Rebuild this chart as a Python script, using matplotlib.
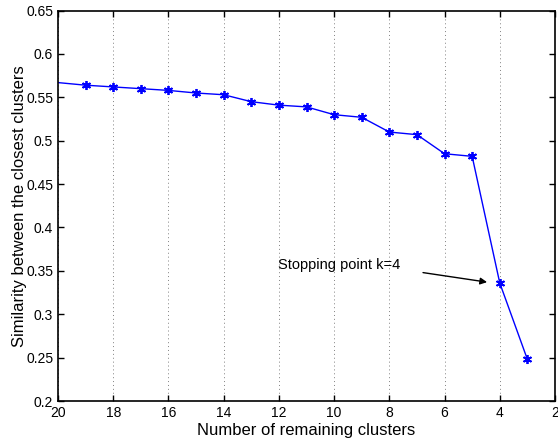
import matplotlib.pyplot as plt

plt.rcParams['font.family'] = ['Liberation Sans', 'DejaVu Sans']

# remaining clusters vs similarity of the two closest clusters
clusters = [20, 19, 18, 17, 16, 15, 14, 13, 12, 11, 10, 9, 8, 7, 6, 5, 4, 3]
similarity = [0.567, 0.564, 0.562, 0.560, 0.558, 0.555, 0.553, 0.545, 0.541,
              0.539, 0.530, 0.527, 0.510, 0.507, 0.485, 0.482, 0.336, 0.248]
x_ticks = [20, 18, 16, 14, 12, 10, 8, 6, 4, 2]
y_ticks = [0.2, 0.25, 0.3, 0.35, 0.4, 0.45, 0.5, 0.55, 0.6, 0.65]
y_tick_labels = ['0.2', '0.25', '0.3', '0.35', '0.4', '0.45', '0.5', '0.55', '0.6', '0.65']

fig = plt.figure(figsize=(5.58, 4.41), dpi=100)
ax = fig.add_axes([0.104, 0.0907, 0.8906, 0.8853])

# line through all points, asterisk markers only on the measured ones (not at 20)
ax.plot(clusters, similarity, color='#0000ff', linewidth=1.0)
ax.plot(clusters[1:], similarity[1:], linestyle='none', marker=(6, 2, 0),
        color='#0000ff', markersize=6.5, markeredgewidth=1.3)

ax.set_xlim(20, 2)
ax.set_ylim(0.2, 0.65)
ax.set_xticks(x_ticks)
ax.set_xticklabels([str(t) for t in x_ticks])
ax.set_yticks(y_ticks)
ax.set_yticklabels(y_tick_labels)
ax.tick_params(direction='in', top=True, right=True, labelsize=10,
               length=4, width=1)
ax.xaxis.grid(True, linestyle=(0, (1, 3)), color='#808080', linewidth=0.7)
for s in ax.spines.values():
    s.set_linewidth(1.2)

ax.set_xlabel('Number of remaining clusters', fontsize=12, labelpad=2)
ax.set_ylabel('Similarity between the closest clusters', fontsize=12, labelpad=-0.5)

ax.annotate('', xy=(4.46, 0.337), xytext=(6.78, 0.348),
            arrowprops=dict(arrowstyle='-|>', color='black', lw=1.0,
                            mutation_scale=10, shrinkA=0, shrinkB=0))
ax.text(12.03, 0.357, 'Stopping point k=4', fontsize=10.5, va='center', ha='left')

fig.savefig('out.png', dpi=100)
